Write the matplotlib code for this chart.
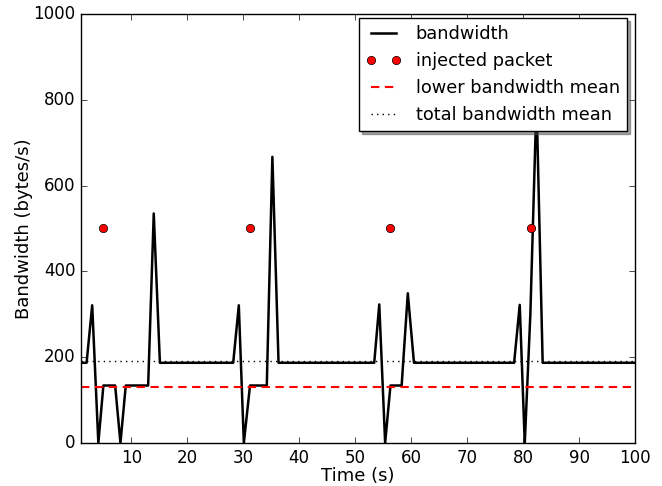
import matplotlib
matplotlib.use("Agg")
from matplotlib import pyplot as plt

# bandwidth trace (vertices)
time_s = [1, 2, 3, 4.1, 5, 7.1, 8.05, 9, 13, 14, 15.1,
          28.2, 29.2, 30.1, 31.2, 34.2, 35.2, 36.3,
          53.4, 54.3, 55.35, 56.3, 58.3, 59.4, 60.5,
          78.4, 79.4, 80.3, 81.3, 82.4, 83.5, 100]
bandwidth = [187, 187, 321, 0, 134, 134, 0, 134, 134, 535, 187,
             187, 321, 0, 134, 134, 667, 187,
             187, 323, 0, 134, 134, 349, 187,
             187, 322, 0, 300, 800, 187, 187]

inject_t = [4.9, 31.2, 56.2, 81.4]
inject_bw = [500, 500, 500, 500]

lower_mean = 130
total_mean = 190

x_ticks = [10, 20, 30, 40, 50, 60, 70, 80, 90, 100]
y_ticks = [0, 200, 400, 600, 800, 1000]


def main():
    plt.style.use("classic")
    plt.rcParams["font.family"] = ["DejaVu Sans"]
    plt.rcParams["font.size"] = 12

    fig, ax = plt.subplots(figsize=(6.62, 4.86), dpi=100)
    fig.patch.set_facecolor("white")
    fig.subplots_adjust(left=81 / 662, right=635 / 662, top=1 - 14 / 486, bottom=1 - 443 / 486)

    ax.plot(time_s, bandwidth, color="black", linewidth=1.8, label="bandwidth")
    ax.plot(inject_t, inject_bw, linestyle="none", marker="o", markersize=6,
            markerfacecolor="red", markeredgecolor="black", label="injected packet")
    ax.axhline(lower_mean, color="red", linestyle="--", dashes=(6, 4), linewidth=1.5,
               label="lower bandwidth mean")
    ax.axhline(total_mean, color="black", linestyle=":", linewidth=1,
               label="total bandwidth mean")

    ax.set_xlim(1, 100)
    ax.set_ylim(0, 1000)
    ax.set_xticks(x_ticks)
    ax.set_yticks(y_ticks)
    ax.tick_params(labelsize=12)
    ax.set_xlabel("Time (s)", fontsize=13, labelpad=0)
    ax.set_ylabel("Bandwidth (bytes/s)", fontsize=13, labelpad=0)

    ax.legend(loc="upper right", bbox_to_anchor=((627 - 81) / 554, 1 - 4 / 429),
              borderaxespad=0, numpoints=2, shadow=True, fancybox=False,
              fontsize=12.8)

    fig.savefig("out.png", dpi=100, facecolor="white")


if __name__ == "__main__":
    main()
